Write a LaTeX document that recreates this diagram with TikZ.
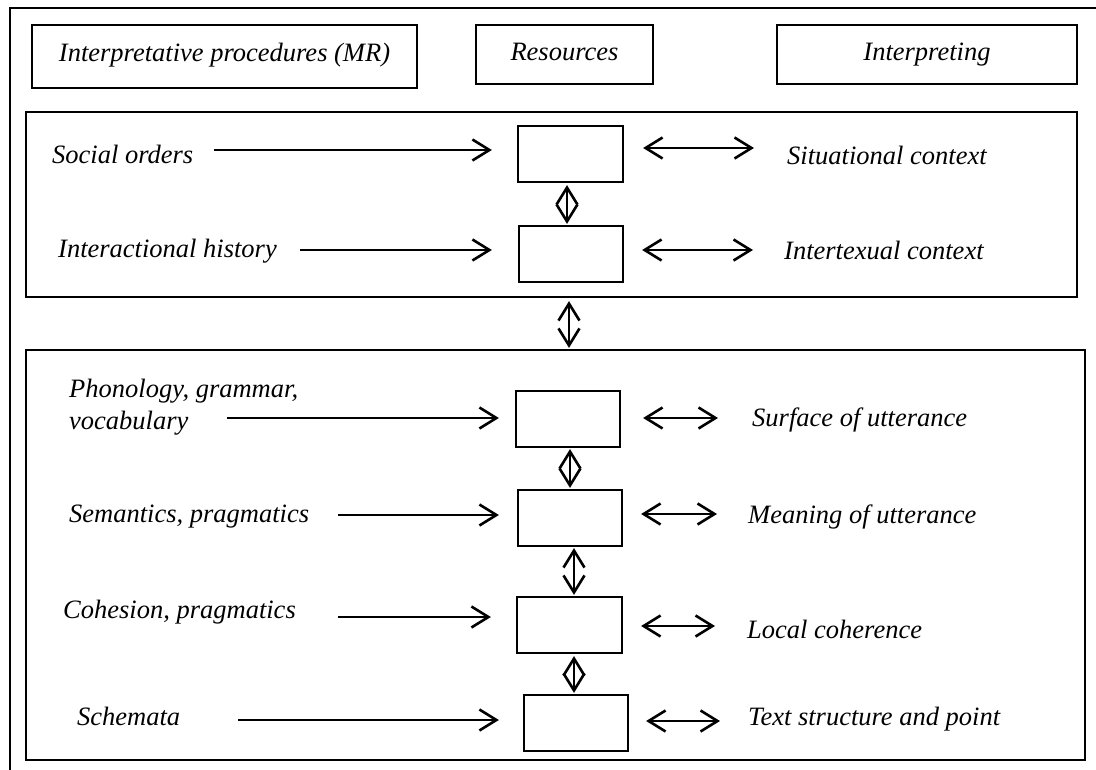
\documentclass[tikz,border=0pt]{standalone}
\usepackage{fontspec}
\setmainfont{Liberation Serif}
\usetikzlibrary{arrows.meta}
\begin{document}
\begin{tikzpicture}[x=1pt,y=-1pt,
  every node/.style={font=\fontsize{26.5}{32}\selectfont\itshape},
  box/.style={draw, line width=2.2pt, inner sep=0pt},
  head/.style={box, text height=18pt, text depth=5pt},
  lab/.style={inner sep=0pt, anchor=base west},
  frame/.style={line width=2.4pt},
  arr/.style={line width=2.6pt, -{Straight Barb[length=17pt,width=21pt]}},
  dbl/.style={line width=2.6pt, {Straight Barb[length=17pt,width=21pt]}-{Straight Barb[length=17pt,width=21pt]}}
]
\useasboundingbox (0,0) rectangle (1096,770);
% outer frame (cropped at right and bottom)
\draw[frame] (10,790) -- (10,8) -- (1110,8);

% header boxes
\node[head, text depth=8pt, minimum width=385pt, minimum height=63pt] (t1) at (224.5,56.5) {Interpretative procedures (MR)};
\node[head, minimum width=177pt, minimum height=59pt] (t2) at (564.5,54.5) {Resources};
\node[head, minimum width=300pt, minimum height=59pt] (t3) at (927,54.5) {Interpreting};

% big panels
\node[box, minimum width=1051pt, minimum height=185pt] (up) at (551.5,204.5) {};
\node[box, minimum width=1059pt, minimum height=410pt] (low) at (555.5,555) {};

% resource boxes
\node[box, minimum width=105pt, minimum height=56pt] (A) at (570.5,154) {};
\node[box, minimum width=104pt, minimum height=56pt] (B) at (571,254) {};
\node[box, minimum width=104pt, minimum height=56pt] (C) at (568,419) {};
\node[box, minimum width=104pt, minimum height=56pt] (D) at (570,518) {};
\node[box, minimum width=105pt, minimum height=56pt] (E) at (569.5,625) {};
\node[box, minimum width=104pt, minimum height=56pt] (F) at (576,723) {};

% left labels
\node[lab] (so) at (52,164) {Social orders};
\node[lab] (ih) at (58,258) {Interactional history};
\node[inner sep=0pt, anchor=north west, align=left] (ph) at (69,379) {Phonology, grammar,\\vocabulary};
\node[lab] (se) at (69,522) {Semantics, pragmatics};
\node[lab] (co) at (63,618) {Cohesion, pragmatics};
\node[lab] (sc) at (77,725) {Schemata};

% right labels
\node[lab] (sit) at (787,165) {Situational context};
\node[lab] (int) at (784,260) {Intertexual context};
\node[lab] (sur) at (752,426) {Surface of utterance};
\node[lab] (mea) at (748,523) {Meaning of utterance};
\node[lab] (loc) at (747,638) {Local coherence};
\node[lab] (tsp) at (748,725) {Text structure and point};

% left arrow start points
\coordinate (la) at (214,150);
\coordinate (lb) at (300,250);
\coordinate (lc) at (227,418);
\coordinate (ld) at (338,515);
\coordinate (le) at (338,617);
\coordinate (lf) at (238,720);
\draw[arr, shorten >=25pt] (la) -- (la -| A.west);
\draw[arr, shorten >=26pt] (lb) -- (lb -| B.west);
\draw[arr, shorten >=16pt] (lc) -- (lc -| C.west);
\draw[arr, shorten >=18pt] (ld) -- (ld -| D.west);
\draw[arr, shorten >=25pt] (le) -- (le -| E.west);
\draw[arr, shorten >=24pt] (lf) -- (lf -| F.west);

% right double arrows end points
\coordinate (ra) at (754,148);
\coordinate (rb) at (753,250);
\coordinate (rc) at (718,418);
\coordinate (rd) at (717,514);
\coordinate (re) at (715,626);
\coordinate (rf) at (720,721);
\draw[dbl, shorten <=19pt] (A.east |- ra) -- (ra);
\draw[dbl, shorten <=18pt] (B.east |- rb) -- (rb);
\draw[dbl, shorten <=22pt] (C.east |- rc) -- (rc);
\draw[dbl, shorten <=18pt] (D.east |- rd) -- (rd);
\draw[dbl, shorten <=18pt] (E.east |- re) -- (re);
\draw[dbl, shorten <=17pt] (F.east |- rf) -- (rf);

% vertical double arrows
\coordinate (vab) at (567,0);
\coordinate (vul) at (569,0);
\coordinate (vcd) at (570,0);
\coordinate (vde) at (574,0);
\coordinate (vef) at (574,0);
\draw[dbl, shorten <=2pt, shorten >=1pt] (A.south -| vab) -- (B.north -| vab);
\draw[dbl, shorten <=3pt, shorten >=1pt] (up.south -| vul) -- (low.north -| vul);
\draw[dbl, shorten <=1pt, shorten >=1pt] (C.south -| vcd) -- (D.north -| vcd);
\draw[dbl, shorten <=1pt, shorten >=1pt] (D.south -| vde) -- (E.north -| vde);
\draw[dbl, shorten <=2pt, shorten >=1pt] (E.south -| vef) -- (F.north -| vef);
\end{tikzpicture}
\end{document}
